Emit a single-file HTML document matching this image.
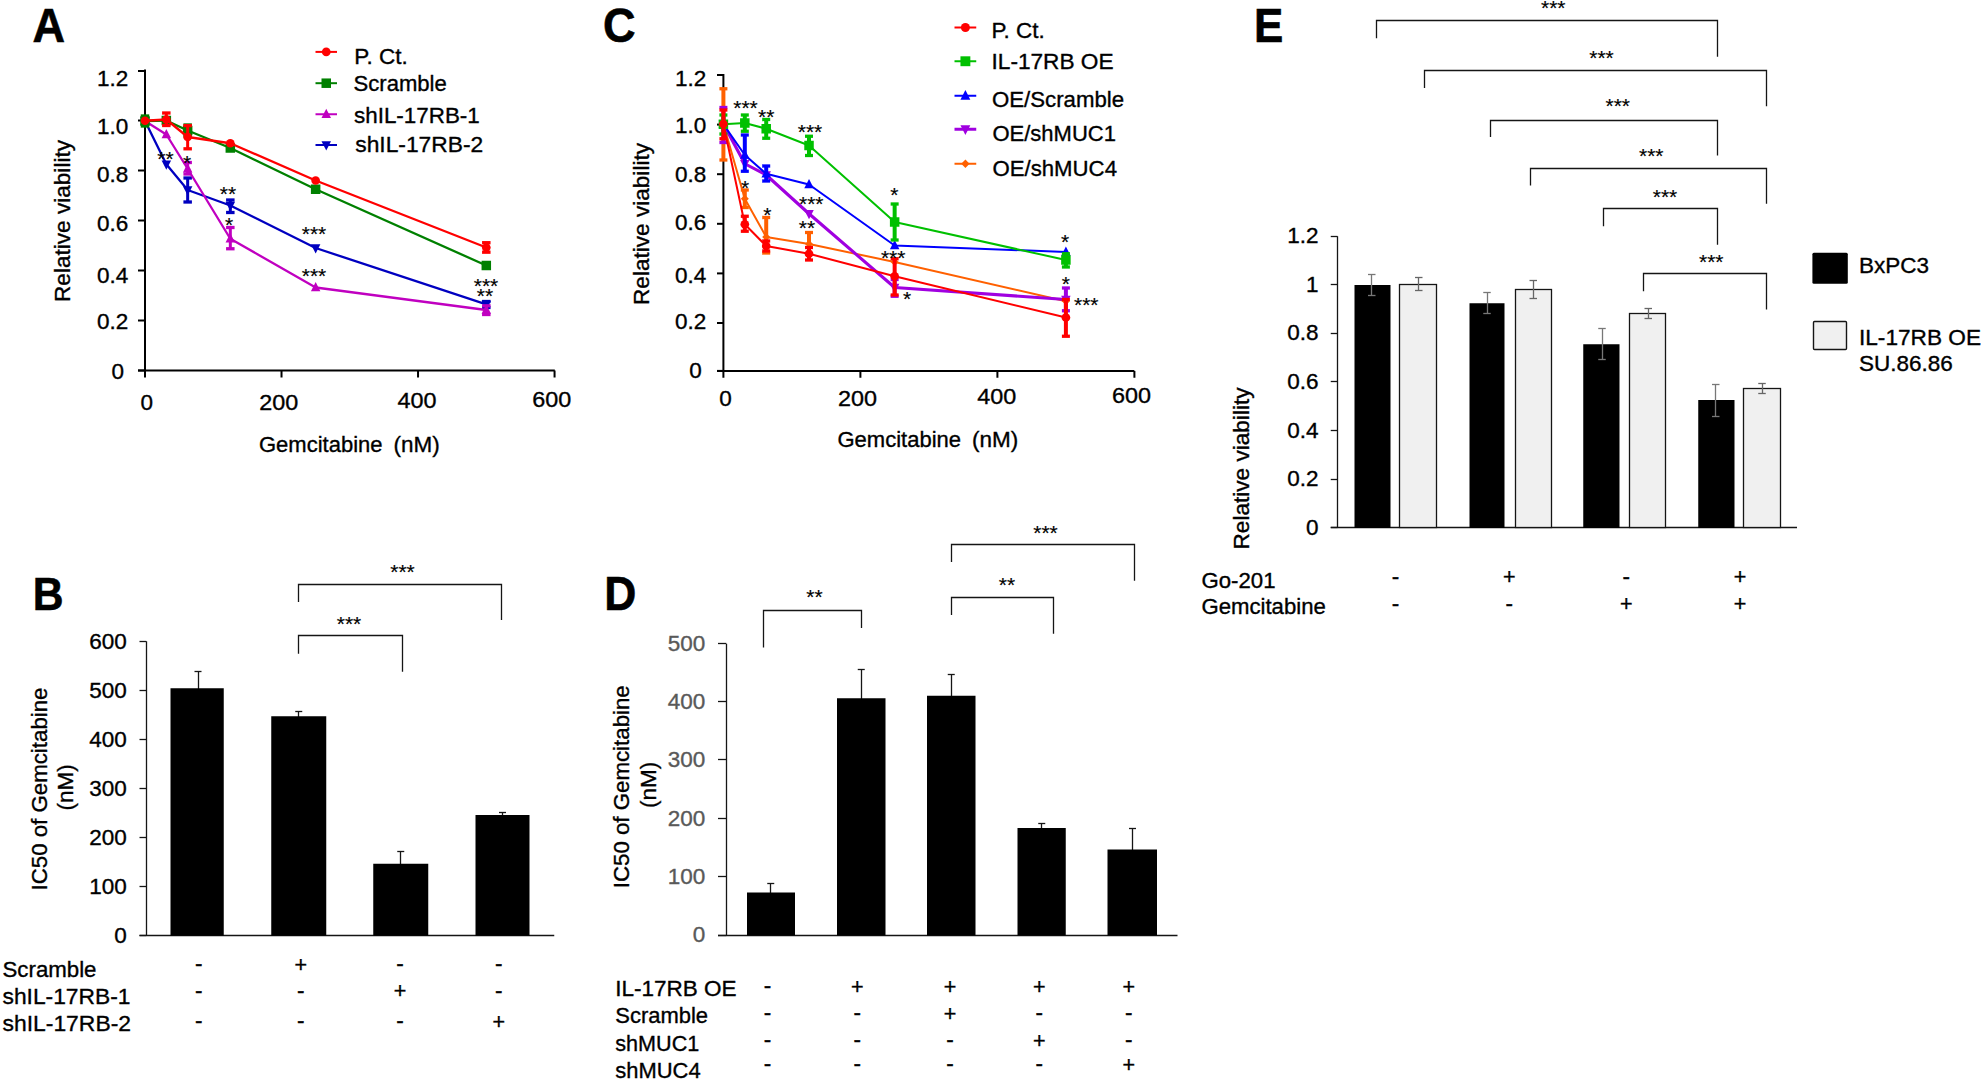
<!DOCTYPE html>
<html lang="en"><head><meta charset="utf-8"><title>Figure</title>
<style>html,body{margin:0;padding:0;background:#fff}svg{display:block}text{stroke:#000;stroke-width:.35px}text.g{stroke:#595959}</style></head><body>
<svg width="1983" height="1083" viewBox="0 0 1983 1083" font-family="'Liberation Sans', Arial, sans-serif" font-size="22.5" fill="#000">
<rect width="1983" height="1083" fill="#fff"/>
<text x="32.40" y="41.90" font-size="48" font-weight="bold" textLength="32.58" lengthAdjust="spacingAndGlyphs" style="stroke-width:.6px">A</text>
<text x="32.70" y="609.80" font-size="47" font-weight="bold" textLength="30.81" lengthAdjust="spacingAndGlyphs" style="stroke-width:.6px">B</text>
<text x="603.00" y="42.20" font-size="48" font-weight="bold" textLength="32.58" lengthAdjust="spacingAndGlyphs" style="stroke-width:.6px">C</text>
<text x="604.30" y="610.10" font-size="48" font-weight="bold" textLength="32.06" lengthAdjust="spacingAndGlyphs" style="stroke-width:.6px">D</text>
<text x="1254.10" y="41.60" font-size="48" font-weight="bold" textLength="29.29" lengthAdjust="spacingAndGlyphs" style="stroke-width:.6px">E</text>
<g id="panelA">
<line x1="145.00" y1="69.50" x2="145.00" y2="371.50" stroke="#000" stroke-width="2"/>
<line x1="138.00" y1="370.50" x2="554.80" y2="370.50" stroke="#000" stroke-width="2"/>
<line x1="138.00" y1="71.00" x2="145.00" y2="71.00" stroke="#000" stroke-width="2"/>
<line x1="138.00" y1="120.50" x2="145.00" y2="120.50" stroke="#000" stroke-width="2"/>
<line x1="138.00" y1="170.50" x2="145.00" y2="170.50" stroke="#000" stroke-width="2"/>
<line x1="138.00" y1="220.50" x2="145.00" y2="220.50" stroke="#000" stroke-width="2"/>
<line x1="138.00" y1="270.50" x2="145.00" y2="270.50" stroke="#000" stroke-width="2"/>
<line x1="138.00" y1="320.50" x2="145.00" y2="320.50" stroke="#000" stroke-width="2"/>
<line x1="138.00" y1="370.50" x2="145.00" y2="370.50" stroke="#000" stroke-width="2"/>
<line x1="145.00" y1="370.50" x2="145.00" y2="377.50" stroke="#000" stroke-width="2"/>
<line x1="281.52" y1="370.50" x2="281.52" y2="377.50" stroke="#000" stroke-width="2"/>
<line x1="418.04" y1="370.50" x2="418.04" y2="377.50" stroke="#000" stroke-width="2"/>
<line x1="554.56" y1="370.50" x2="554.56" y2="377.50" stroke="#000" stroke-width="2"/>
<text x="128.30" y="86.40" text-anchor="end">1.2</text>
<text x="128.30" y="134.20" text-anchor="end">1.0</text>
<text x="128.30" y="182.00" text-anchor="end">0.8</text>
<text x="128.30" y="231.00" text-anchor="end">0.6</text>
<text x="128.30" y="282.80" text-anchor="end">0.4</text>
<text x="128.30" y="329.30" text-anchor="end">0.2</text>
<text x="124.00" y="379.20" text-anchor="end">0</text>
<text x="146.70" y="409.90" text-anchor="middle">0</text>
<text x="278.75" y="409.90" text-anchor="middle" textLength="39" lengthAdjust="spacingAndGlyphs">200</text>
<text x="416.90" y="408.10" text-anchor="middle" textLength="39" lengthAdjust="spacingAndGlyphs">400</text>
<text x="551.70" y="407.00" text-anchor="middle" textLength="39" lengthAdjust="spacingAndGlyphs">600</text>
<text x="259.00" y="451.75" textLength="123.5" lengthAdjust="spacingAndGlyphs">Gemcitabine</text>
<text x="393.50" y="451.75">(nM)</text>
<text x="70.00" y="302.00" textLength="162" lengthAdjust="spacingAndGlyphs" transform="rotate(-90 70.00 302.00)">Relative viability</text>
<polyline points="145.00,121.00 166.33,164.25 187.66,190.00 230.32,205.50 315.65,248.00 486.30,304.40" fill="none" stroke="#0000c0" stroke-width="2.3" stroke-linejoin="round"/>
<line x1="187.66" y1="178.00" x2="187.66" y2="202.00" stroke="#0000c0" stroke-width="3"/>
<line x1="183.41" y1="178.00" x2="191.91" y2="178.00" stroke="#0000c0" stroke-width="3.3"/>
<line x1="183.41" y1="202.00" x2="191.91" y2="202.00" stroke="#0000c0" stroke-width="3.3"/>
<line x1="230.32" y1="200.00" x2="230.32" y2="212.50" stroke="#0000c0" stroke-width="3"/>
<line x1="226.07" y1="200.00" x2="234.57" y2="200.00" stroke="#0000c0" stroke-width="3.3"/>
<line x1="226.07" y1="212.50" x2="234.57" y2="212.50" stroke="#0000c0" stroke-width="3.3"/>
<line x1="486.30" y1="301.50" x2="486.30" y2="307.50" stroke="#0000c0" stroke-width="3"/>
<line x1="482.05" y1="301.50" x2="490.55" y2="301.50" stroke="#0000c0" stroke-width="3.3"/>
<line x1="482.05" y1="307.50" x2="490.55" y2="307.50" stroke="#0000c0" stroke-width="3.3"/>
<polygon points="145.00,126.50 149.75,117.25 140.25,117.25" fill="#0000c0"/>
<polygon points="166.33,169.75 171.08,160.50 161.58,160.50" fill="#0000c0"/>
<polygon points="187.66,195.50 192.41,186.25 182.91,186.25" fill="#0000c0"/>
<polygon points="230.32,211.00 235.07,201.75 225.57,201.75" fill="#0000c0"/>
<polygon points="315.65,253.50 320.40,244.25 310.90,244.25" fill="#0000c0"/>
<polygon points="486.30,309.90 491.05,300.65 481.55,300.65" fill="#0000c0"/>
<polyline points="145.00,121.00 166.33,134.50 187.66,168.75 230.32,238.75 315.65,287.50 486.30,310.00" fill="none" stroke="#c000c0" stroke-width="2.3" stroke-linejoin="round"/>
<line x1="187.66" y1="162.50" x2="187.66" y2="174.00" stroke="#c000c0" stroke-width="3"/>
<line x1="183.41" y1="162.50" x2="191.91" y2="162.50" stroke="#c000c0" stroke-width="3.3"/>
<line x1="183.41" y1="174.00" x2="191.91" y2="174.00" stroke="#c000c0" stroke-width="3.3"/>
<line x1="230.32" y1="227.50" x2="230.32" y2="248.75" stroke="#c000c0" stroke-width="3"/>
<line x1="226.07" y1="227.50" x2="234.57" y2="227.50" stroke="#c000c0" stroke-width="3.3"/>
<line x1="226.07" y1="248.75" x2="234.57" y2="248.75" stroke="#c000c0" stroke-width="3.3"/>
<line x1="486.30" y1="305.80" x2="486.30" y2="314.50" stroke="#c000c0" stroke-width="3"/>
<line x1="482.05" y1="305.80" x2="490.55" y2="305.80" stroke="#c000c0" stroke-width="3.3"/>
<line x1="482.05" y1="314.50" x2="490.55" y2="314.50" stroke="#c000c0" stroke-width="3.3"/>
<polygon points="145.00,115.50 149.75,124.75 140.25,124.75" fill="#c000c0"/>
<polygon points="166.33,129.00 171.08,138.25 161.58,138.25" fill="#c000c0"/>
<polygon points="187.66,163.25 192.41,172.50 182.91,172.50" fill="#c000c0"/>
<polygon points="230.32,233.25 235.07,242.50 225.57,242.50" fill="#c000c0"/>
<polygon points="315.65,282.00 320.40,291.25 310.90,291.25" fill="#c000c0"/>
<polygon points="486.30,304.50 491.05,313.75 481.55,313.75" fill="#c000c0"/>
<polyline points="145.00,121.00 166.33,120.50 187.66,130.50 230.32,148.00 315.65,189.25 486.30,265.50" fill="none" stroke="#008000" stroke-width="2.3" stroke-linejoin="round"/>
<line x1="145.00" y1="116.00" x2="145.00" y2="126.00" stroke="#008000" stroke-width="3"/>
<line x1="140.75" y1="116.00" x2="149.25" y2="116.00" stroke="#008000" stroke-width="3.3"/>
<line x1="140.75" y1="126.00" x2="149.25" y2="126.00" stroke="#008000" stroke-width="3.3"/>
<line x1="187.66" y1="125.00" x2="187.66" y2="136.00" stroke="#008000" stroke-width="3"/>
<line x1="183.41" y1="125.00" x2="191.91" y2="125.00" stroke="#008000" stroke-width="3.3"/>
<line x1="183.41" y1="136.00" x2="191.91" y2="136.00" stroke="#008000" stroke-width="3.3"/>
<rect x="140.25" y="116.25" width="9.50" height="9.50" fill="#008000"/>
<rect x="161.58" y="115.75" width="9.50" height="9.50" fill="#008000"/>
<rect x="182.91" y="125.75" width="9.50" height="9.50" fill="#008000"/>
<rect x="225.57" y="143.25" width="9.50" height="9.50" fill="#008000"/>
<rect x="310.90" y="184.50" width="9.50" height="9.50" fill="#008000"/>
<rect x="481.55" y="260.75" width="9.50" height="9.50" fill="#008000"/>
<polyline points="145.00,120.75 166.33,119.50 187.66,137.00 230.32,143.25 315.65,180.50 486.30,247.50" fill="none" stroke="#ff0000" stroke-width="2.3" stroke-linejoin="round"/>
<line x1="166.33" y1="113.00" x2="166.33" y2="125.50" stroke="#ff0000" stroke-width="3"/>
<line x1="162.08" y1="113.00" x2="170.58" y2="113.00" stroke="#ff0000" stroke-width="3.3"/>
<line x1="162.08" y1="125.50" x2="170.58" y2="125.50" stroke="#ff0000" stroke-width="3.3"/>
<line x1="187.66" y1="125.60" x2="187.66" y2="148.80" stroke="#ff0000" stroke-width="3"/>
<line x1="183.41" y1="125.60" x2="191.91" y2="125.60" stroke="#ff0000" stroke-width="3.3"/>
<line x1="183.41" y1="148.80" x2="191.91" y2="148.80" stroke="#ff0000" stroke-width="3.3"/>
<line x1="486.30" y1="242.70" x2="486.30" y2="252.20" stroke="#ff0000" stroke-width="3"/>
<line x1="482.05" y1="242.70" x2="490.55" y2="242.70" stroke="#ff0000" stroke-width="3.3"/>
<line x1="482.05" y1="252.20" x2="490.55" y2="252.20" stroke="#ff0000" stroke-width="3.3"/>
<circle cx="145.00" cy="120.75" r="4.35" fill="#ff0000"/>
<circle cx="166.33" cy="119.50" r="4.35" fill="#ff0000"/>
<circle cx="187.66" cy="137.00" r="4.35" fill="#ff0000"/>
<circle cx="230.32" cy="143.25" r="4.35" fill="#ff0000"/>
<circle cx="315.65" cy="180.50" r="4.35" fill="#ff0000"/>
<circle cx="486.30" cy="247.50" r="4.35" fill="#ff0000"/>
<text x="165.50" y="165.77" text-anchor="middle" font-size="21" style="stroke-width:.15px">**</text>
<text x="187.00" y="169.77" text-anchor="middle" font-size="21" style="stroke-width:.15px">*</text>
<text x="228.00" y="200.77" text-anchor="middle" font-size="21" style="stroke-width:.15px">**</text>
<text x="229.00" y="232.27" text-anchor="middle" font-size="21" style="stroke-width:.15px">*</text>
<text x="314.00" y="240.77" text-anchor="middle" font-size="21" style="stroke-width:.15px">***</text>
<text x="314.00" y="283.27" text-anchor="middle" font-size="21" style="stroke-width:.15px">***</text>
<text x="486.00" y="293.27" text-anchor="middle" font-size="21" style="stroke-width:.15px">***</text>
<text x="485.00" y="302.97" text-anchor="middle" font-size="21" style="stroke-width:.15px">**</text>
<line x1="315.50" y1="51.90" x2="337.00" y2="51.90" stroke="#ff0000" stroke-width="2"/>
<circle cx="326.25" cy="51.90" r="4.35" fill="#ff0000"/>
<text x="354.30" y="63.70">P. Ct.</text>
<line x1="315.50" y1="83.20" x2="337.00" y2="83.20" stroke="#008000" stroke-width="2"/>
<rect x="321.50" y="78.45" width="9.50" height="9.50" fill="#008000"/>
<text x="353.50" y="90.90" textLength="93.3" lengthAdjust="spacingAndGlyphs">Scramble</text>
<line x1="315.50" y1="114.25" x2="337.00" y2="114.25" stroke="#c000c0" stroke-width="2"/>
<polygon points="326.25,108.75 331.00,118.00 321.50,118.00" fill="#c000c0"/>
<text x="354.00" y="123.00" textLength="125.8" lengthAdjust="spacingAndGlyphs">shIL-17RB-1</text>
<line x1="315.50" y1="145.00" x2="337.00" y2="145.00" stroke="#0000c0" stroke-width="2"/>
<polygon points="326.25,150.50 331.00,141.25 321.50,141.25" fill="#0000c0"/>
<text x="355.30" y="152.00" textLength="127.9" lengthAdjust="spacingAndGlyphs">shIL-17RB-2</text>
</g>
<g id="panelC">
<line x1="723.40" y1="74.00" x2="723.40" y2="371.90" stroke="#000" stroke-width="2"/>
<line x1="717.00" y1="370.90" x2="1134.30" y2="370.90" stroke="#000" stroke-width="2"/>
<line x1="717.00" y1="75.00" x2="723.40" y2="75.00" stroke="#000" stroke-width="2"/>
<line x1="717.00" y1="124.60" x2="723.40" y2="124.60" stroke="#000" stroke-width="2"/>
<line x1="717.00" y1="174.20" x2="723.40" y2="174.20" stroke="#000" stroke-width="2"/>
<line x1="717.00" y1="223.80" x2="723.40" y2="223.80" stroke="#000" stroke-width="2"/>
<line x1="717.00" y1="273.40" x2="723.40" y2="273.40" stroke="#000" stroke-width="2"/>
<line x1="717.00" y1="323.00" x2="723.40" y2="323.00" stroke="#000" stroke-width="2"/>
<line x1="717.00" y1="370.90" x2="723.40" y2="370.90" stroke="#000" stroke-width="2"/>
<line x1="723.40" y1="370.90" x2="723.40" y2="377.75" stroke="#000" stroke-width="2"/>
<line x1="860.40" y1="370.90" x2="860.40" y2="377.75" stroke="#000" stroke-width="2"/>
<line x1="997.40" y1="370.90" x2="997.40" y2="377.75" stroke="#000" stroke-width="2"/>
<line x1="1134.40" y1="370.90" x2="1134.40" y2="377.75" stroke="#000" stroke-width="2"/>
<text x="706.30" y="85.50" text-anchor="end">1.2</text>
<text x="706.30" y="132.90" text-anchor="end">1.0</text>
<text x="706.30" y="182.00" text-anchor="end">0.8</text>
<text x="706.30" y="230.30" text-anchor="end">0.6</text>
<text x="706.30" y="282.60" text-anchor="end">0.4</text>
<text x="706.30" y="328.70" text-anchor="end">0.2</text>
<text x="701.70" y="378.20" text-anchor="end">0</text>
<text x="725.50" y="406.20" text-anchor="middle">0</text>
<text x="857.60" y="406.20" text-anchor="middle" textLength="39" lengthAdjust="spacingAndGlyphs">200</text>
<text x="996.70" y="404.00" text-anchor="middle" textLength="39" lengthAdjust="spacingAndGlyphs">400</text>
<text x="1131.60" y="402.90" text-anchor="middle" textLength="39" lengthAdjust="spacingAndGlyphs">600</text>
<text x="837.50" y="447.30" textLength="123.5" lengthAdjust="spacingAndGlyphs">Gemcitabine</text>
<text x="972.00" y="447.30">(nM)</text>
<text x="649.00" y="305.00" textLength="162" lengthAdjust="spacingAndGlyphs" transform="rotate(-90 649.00 305.00)">Relative viability</text>
<polyline points="723.40,124.00 744.81,198.75 766.21,237.00 809.02,244.00 894.65,262.00 1065.90,301.25" fill="none" stroke="#ff6000" stroke-width="2" stroke-linejoin="round"/>
<line x1="723.40" y1="88.75" x2="723.40" y2="160.00" stroke="#ff6000" stroke-width="4"/>
<line x1="719.40" y1="88.75" x2="727.40" y2="88.75" stroke="#ff6000" stroke-width="3.3"/>
<line x1="719.40" y1="160.00" x2="727.40" y2="160.00" stroke="#ff6000" stroke-width="3.3"/>
<line x1="744.81" y1="190.00" x2="744.81" y2="207.50" stroke="#ff6000" stroke-width="4"/>
<line x1="740.81" y1="190.00" x2="748.81" y2="190.00" stroke="#ff6000" stroke-width="3.3"/>
<line x1="740.81" y1="207.50" x2="748.81" y2="207.50" stroke="#ff6000" stroke-width="3.3"/>
<line x1="766.21" y1="217.50" x2="766.21" y2="253.00" stroke="#ff6000" stroke-width="4"/>
<line x1="762.21" y1="217.50" x2="770.21" y2="217.50" stroke="#ff6000" stroke-width="3.3"/>
<line x1="762.21" y1="253.00" x2="770.21" y2="253.00" stroke="#ff6000" stroke-width="3.3"/>
<line x1="809.02" y1="232.50" x2="809.02" y2="253.75" stroke="#ff6000" stroke-width="4"/>
<line x1="805.02" y1="232.50" x2="813.02" y2="232.50" stroke="#ff6000" stroke-width="3.3"/>
<line x1="805.02" y1="253.75" x2="813.02" y2="253.75" stroke="#ff6000" stroke-width="3.3"/>
<polygon points="723.40,120.00 727.40,124.00 723.40,128.00 719.40,124.00" fill="#ff6000"/>
<polygon points="744.81,194.75 748.81,198.75 744.81,202.75 740.81,198.75" fill="#ff6000"/>
<polygon points="766.21,233.00 770.21,237.00 766.21,241.00 762.21,237.00" fill="#ff6000"/>
<polygon points="809.02,240.00 813.02,244.00 809.02,248.00 805.02,244.00" fill="#ff6000"/>
<polygon points="894.65,258.00 898.65,262.00 894.65,266.00 890.65,262.00" fill="#ff6000"/>
<polygon points="1065.90,297.25 1069.90,301.25 1065.90,305.25 1061.90,301.25" fill="#ff6000"/>
<polyline points="723.40,124.00 744.81,163.75 766.21,175.00 809.02,213.75 894.65,287.50 1065.90,299.50" fill="none" stroke="#a000e0" stroke-width="3.1" stroke-linejoin="round"/>
<line x1="723.40" y1="107.50" x2="723.40" y2="142.50" stroke="#a000e0" stroke-width="4"/>
<line x1="719.40" y1="107.50" x2="727.40" y2="107.50" stroke="#a000e0" stroke-width="3.3"/>
<line x1="719.40" y1="142.50" x2="727.40" y2="142.50" stroke="#a000e0" stroke-width="3.3"/>
<line x1="894.65" y1="279.50" x2="894.65" y2="296.25" stroke="#a000e0" stroke-width="4"/>
<line x1="890.65" y1="279.50" x2="898.65" y2="279.50" stroke="#a000e0" stroke-width="3.3"/>
<line x1="890.65" y1="296.25" x2="898.65" y2="296.25" stroke="#a000e0" stroke-width="3.3"/>
<line x1="1065.90" y1="288.00" x2="1065.90" y2="310.75" stroke="#a000e0" stroke-width="4"/>
<line x1="1061.90" y1="288.00" x2="1069.90" y2="288.00" stroke="#a000e0" stroke-width="3.3"/>
<line x1="1061.90" y1="310.75" x2="1069.90" y2="310.75" stroke="#a000e0" stroke-width="3.3"/>
<polygon points="723.40,129.50 728.15,120.25 718.65,120.25" fill="#a000e0"/>
<polygon points="744.81,169.25 749.56,160.00 740.06,160.00" fill="#a000e0"/>
<polygon points="766.21,180.50 770.96,171.25 761.46,171.25" fill="#a000e0"/>
<polygon points="809.02,219.25 813.77,210.00 804.27,210.00" fill="#a000e0"/>
<polygon points="894.65,293.00 899.40,283.75 889.90,283.75" fill="#a000e0"/>
<polygon points="1065.90,305.00 1070.65,295.75 1061.15,295.75" fill="#a000e0"/>
<polyline points="723.40,124.25 744.81,155.00 766.21,173.75 809.02,184.50 894.65,245.50 1065.90,252.00" fill="none" stroke="#0000ff" stroke-width="2" stroke-linejoin="round"/>
<line x1="744.81" y1="135.00" x2="744.81" y2="171.25" stroke="#0000ff" stroke-width="4"/>
<line x1="740.81" y1="135.00" x2="748.81" y2="135.00" stroke="#0000ff" stroke-width="3.3"/>
<line x1="740.81" y1="171.25" x2="748.81" y2="171.25" stroke="#0000ff" stroke-width="3.3"/>
<line x1="766.21" y1="166.00" x2="766.21" y2="181.00" stroke="#0000ff" stroke-width="4"/>
<line x1="762.21" y1="166.00" x2="770.21" y2="166.00" stroke="#0000ff" stroke-width="3.3"/>
<line x1="762.21" y1="181.00" x2="770.21" y2="181.00" stroke="#0000ff" stroke-width="3.3"/>
<polygon points="723.40,118.75 728.15,128.00 718.65,128.00" fill="#0000ff"/>
<polygon points="744.81,149.50 749.56,158.75 740.06,158.75" fill="#0000ff"/>
<polygon points="766.21,168.25 770.96,177.50 761.46,177.50" fill="#0000ff"/>
<polygon points="809.02,179.00 813.77,188.25 804.27,188.25" fill="#0000ff"/>
<polygon points="894.65,240.00 899.40,249.25 889.90,249.25" fill="#0000ff"/>
<polygon points="1065.90,246.50 1070.65,255.75 1061.15,255.75" fill="#0000ff"/>
<polyline points="723.40,124.25 744.81,123.00 766.21,128.75 809.02,145.50 894.65,222.00 1065.90,260.00" fill="none" stroke="#00c000" stroke-width="2" stroke-linejoin="round"/>
<line x1="723.40" y1="115.00" x2="723.40" y2="134.00" stroke="#00c000" stroke-width="4"/>
<line x1="719.40" y1="115.00" x2="727.40" y2="115.00" stroke="#00c000" stroke-width="3.3"/>
<line x1="719.40" y1="134.00" x2="727.40" y2="134.00" stroke="#00c000" stroke-width="3.3"/>
<line x1="744.81" y1="115.00" x2="744.81" y2="131.25" stroke="#00c000" stroke-width="4"/>
<line x1="740.81" y1="115.00" x2="748.81" y2="115.00" stroke="#00c000" stroke-width="3.3"/>
<line x1="740.81" y1="131.25" x2="748.81" y2="131.25" stroke="#00c000" stroke-width="3.3"/>
<line x1="766.21" y1="119.50" x2="766.21" y2="138.25" stroke="#00c000" stroke-width="4"/>
<line x1="762.21" y1="119.50" x2="770.21" y2="119.50" stroke="#00c000" stroke-width="3.3"/>
<line x1="762.21" y1="138.25" x2="770.21" y2="138.25" stroke="#00c000" stroke-width="3.3"/>
<line x1="809.02" y1="136.25" x2="809.02" y2="155.50" stroke="#00c000" stroke-width="4"/>
<line x1="805.02" y1="136.25" x2="813.02" y2="136.25" stroke="#00c000" stroke-width="3.3"/>
<line x1="805.02" y1="155.50" x2="813.02" y2="155.50" stroke="#00c000" stroke-width="3.3"/>
<line x1="894.65" y1="204.00" x2="894.65" y2="240.00" stroke="#00c000" stroke-width="4"/>
<line x1="890.65" y1="204.00" x2="898.65" y2="204.00" stroke="#00c000" stroke-width="3.3"/>
<line x1="890.65" y1="240.00" x2="898.65" y2="240.00" stroke="#00c000" stroke-width="3.3"/>
<line x1="1065.90" y1="253.75" x2="1065.90" y2="267.00" stroke="#00c000" stroke-width="4"/>
<line x1="1061.90" y1="253.75" x2="1069.90" y2="253.75" stroke="#00c000" stroke-width="3.3"/>
<line x1="1061.90" y1="267.00" x2="1069.90" y2="267.00" stroke="#00c000" stroke-width="3.3"/>
<rect x="718.65" y="119.50" width="9.50" height="9.50" fill="#00c000"/>
<rect x="740.06" y="118.25" width="9.50" height="9.50" fill="#00c000"/>
<rect x="761.46" y="124.00" width="9.50" height="9.50" fill="#00c000"/>
<rect x="804.27" y="140.75" width="9.50" height="9.50" fill="#00c000"/>
<rect x="889.90" y="217.25" width="9.50" height="9.50" fill="#00c000"/>
<rect x="1061.15" y="255.25" width="9.50" height="9.50" fill="#00c000"/>
<polyline points="723.40,124.00 744.81,224.25 766.21,246.00 809.02,253.75 894.65,276.25 1065.90,317.50" fill="none" stroke="#ff0000" stroke-width="2" stroke-linejoin="round"/>
<line x1="723.40" y1="110.00" x2="723.40" y2="138.75" stroke="#ff0000" stroke-width="4"/>
<line x1="719.40" y1="110.00" x2="727.40" y2="110.00" stroke="#ff0000" stroke-width="3.3"/>
<line x1="719.40" y1="138.75" x2="727.40" y2="138.75" stroke="#ff0000" stroke-width="3.3"/>
<line x1="744.81" y1="216.25" x2="744.81" y2="231.25" stroke="#ff0000" stroke-width="4"/>
<line x1="740.81" y1="216.25" x2="748.81" y2="216.25" stroke="#ff0000" stroke-width="3.3"/>
<line x1="740.81" y1="231.25" x2="748.81" y2="231.25" stroke="#ff0000" stroke-width="3.3"/>
<line x1="766.21" y1="241.00" x2="766.21" y2="251.00" stroke="#ff0000" stroke-width="4"/>
<line x1="762.21" y1="241.00" x2="770.21" y2="241.00" stroke="#ff0000" stroke-width="3.3"/>
<line x1="762.21" y1="251.00" x2="770.21" y2="251.00" stroke="#ff0000" stroke-width="3.3"/>
<line x1="809.02" y1="247.50" x2="809.02" y2="260.00" stroke="#ff0000" stroke-width="4"/>
<line x1="805.02" y1="247.50" x2="813.02" y2="247.50" stroke="#ff0000" stroke-width="3.3"/>
<line x1="805.02" y1="260.00" x2="813.02" y2="260.00" stroke="#ff0000" stroke-width="3.3"/>
<line x1="894.65" y1="258.75" x2="894.65" y2="295.00" stroke="#ff0000" stroke-width="4"/>
<line x1="890.65" y1="258.75" x2="898.65" y2="258.75" stroke="#ff0000" stroke-width="3.3"/>
<line x1="890.65" y1="295.00" x2="898.65" y2="295.00" stroke="#ff0000" stroke-width="3.3"/>
<line x1="1065.90" y1="299.50" x2="1065.90" y2="336.25" stroke="#ff0000" stroke-width="4"/>
<line x1="1061.90" y1="299.50" x2="1069.90" y2="299.50" stroke="#ff0000" stroke-width="3.3"/>
<line x1="1061.90" y1="336.25" x2="1069.90" y2="336.25" stroke="#ff0000" stroke-width="3.3"/>
<circle cx="723.40" cy="124.00" r="4.35" fill="#ff0000"/>
<circle cx="744.81" cy="224.25" r="4.35" fill="#ff0000"/>
<circle cx="766.21" cy="246.00" r="4.35" fill="#ff0000"/>
<circle cx="809.02" cy="253.75" r="4.35" fill="#ff0000"/>
<circle cx="894.65" cy="276.25" r="4.35" fill="#ff0000"/>
<circle cx="1065.90" cy="317.50" r="4.35" fill="#ff0000"/>
<text x="745.50" y="114.77" text-anchor="middle" font-size="21" style="stroke-width:.15px">***</text>
<text x="766.25" y="123.52" text-anchor="middle" font-size="21" style="stroke-width:.15px">**</text>
<text x="810.00" y="139.27" text-anchor="middle" font-size="21" style="stroke-width:.15px">***</text>
<text x="745.00" y="195.27" text-anchor="middle" font-size="21" style="stroke-width:.15px">*</text>
<text x="767.30" y="222.07" text-anchor="middle" font-size="21" style="stroke-width:.15px">*</text>
<text x="811.25" y="211.02" text-anchor="middle" font-size="21" style="stroke-width:.15px">***</text>
<text x="807.00" y="235.07" text-anchor="middle" font-size="21" style="stroke-width:.15px">**</text>
<text x="894.25" y="202.27" text-anchor="middle" font-size="21" style="stroke-width:.15px">*</text>
<text x="893.20" y="265.27" text-anchor="middle" font-size="21" style="stroke-width:.15px">***</text>
<text x="907.00" y="306.02" text-anchor="middle" font-size="21" style="stroke-width:.15px">*</text>
<text x="1065.00" y="249.02" text-anchor="middle" font-size="21" style="stroke-width:.15px">*</text>
<text x="1065.75" y="290.52" text-anchor="middle" font-size="21" style="stroke-width:.15px">*</text>
<text x="1086.25" y="311.52" text-anchor="middle" font-size="21" style="stroke-width:.15px">***</text>
<line x1="954.50" y1="27.50" x2="976.25" y2="27.50" stroke="#ff0000" stroke-width="2"/>
<circle cx="965.40" cy="27.50" r="4.52" fill="#ff0000"/>
<text x="991.50" y="38.25">P. Ct.</text>
<line x1="954.50" y1="61.25" x2="976.25" y2="61.25" stroke="#00c000" stroke-width="2"/>
<rect x="960.46" y="56.31" width="9.88" height="9.88" fill="#00c000"/>
<text x="991.50" y="69.25" textLength="122.1" lengthAdjust="spacingAndGlyphs">IL-17RB OE</text>
<line x1="954.50" y1="95.75" x2="976.25" y2="95.75" stroke="#0000ff" stroke-width="2"/>
<polygon points="965.40,90.03 970.34,99.65 960.46,99.65" fill="#0000ff"/>
<text x="992.00" y="107.00" textLength="132.1" lengthAdjust="spacingAndGlyphs">OE/Scramble</text>
<line x1="954.50" y1="129.25" x2="976.25" y2="129.25" stroke="#a000e0" stroke-width="3"/>
<polygon points="965.40,134.97 970.34,125.35 960.46,125.35" fill="#a000e0"/>
<text x="992.40" y="141.25" textLength="123.6" lengthAdjust="spacingAndGlyphs">OE/shMUC1</text>
<line x1="954.50" y1="163.75" x2="976.25" y2="163.75" stroke="#ff6000" stroke-width="2"/>
<polygon points="965.40,159.59 969.56,163.75 965.40,167.91 961.24,163.75" fill="#ff6000"/>
<text x="992.40" y="175.75" textLength="124.6" lengthAdjust="spacingAndGlyphs">OE/shMUC4</text>
</g>
<g id="panelB">
<line x1="146.50" y1="641.25" x2="146.50" y2="935.20" stroke="#151515" stroke-width="1.3"/>
<line x1="139.50" y1="935.50" x2="554.25" y2="935.50" stroke="#151515" stroke-width="1.3"/>
<line x1="139.50" y1="641.50" x2="146.25" y2="641.50" stroke="#151515" stroke-width="1.3"/>
<text x="126.75" y="649.00" text-anchor="end">600</text>
<line x1="139.50" y1="690.50" x2="146.25" y2="690.50" stroke="#151515" stroke-width="1.3"/>
<text x="126.75" y="697.95" text-anchor="end">500</text>
<line x1="139.50" y1="739.50" x2="146.25" y2="739.50" stroke="#151515" stroke-width="1.3"/>
<text x="126.75" y="746.90" text-anchor="end">400</text>
<line x1="139.50" y1="788.50" x2="146.25" y2="788.50" stroke="#151515" stroke-width="1.3"/>
<text x="126.75" y="795.85" text-anchor="end">300</text>
<line x1="139.50" y1="837.50" x2="146.25" y2="837.50" stroke="#151515" stroke-width="1.3"/>
<text x="126.75" y="844.80" text-anchor="end">200</text>
<line x1="139.50" y1="886.50" x2="146.25" y2="886.50" stroke="#151515" stroke-width="1.3"/>
<text x="126.75" y="893.75" text-anchor="end">100</text>
<line x1="139.50" y1="935.50" x2="146.25" y2="935.50" stroke="#151515" stroke-width="1.3"/>
<text x="126.75" y="942.70" text-anchor="end">0</text>
<line x1="198.50" y1="671.25" x2="198.50" y2="689.25" stroke="#151515" stroke-width="1.3"/>
<line x1="194.50" y1="671.50" x2="201.50" y2="671.50" stroke="#151515" stroke-width="1.3"/>
<rect x="170.50" y="688.25" width="53.25" height="247.45" fill="#000"/>
<line x1="298.50" y1="711.25" x2="298.50" y2="717.25" stroke="#151515" stroke-width="1.3"/>
<line x1="295.25" y1="711.50" x2="302.25" y2="711.50" stroke="#151515" stroke-width="1.3"/>
<rect x="271.25" y="716.25" width="55.00" height="219.45" fill="#000"/>
<line x1="400.50" y1="851.25" x2="400.50" y2="864.75" stroke="#151515" stroke-width="1.3"/>
<line x1="397.25" y1="851.50" x2="404.25" y2="851.50" stroke="#151515" stroke-width="1.3"/>
<rect x="373.25" y="863.75" width="55.00" height="71.95" fill="#000"/>
<line x1="502.50" y1="812.50" x2="502.50" y2="816.00" stroke="#151515" stroke-width="1.3"/>
<line x1="499.00" y1="812.50" x2="506.00" y2="812.50" stroke="#151515" stroke-width="1.3"/>
<rect x="475.50" y="815.00" width="54.00" height="120.70" fill="#000"/>
<polyline points="298.50,653.75 298.50,635.50 402.50,635.50 402.50,671.75" fill="none" stroke="#151515" stroke-width="1.3"/>
<text x="349.00" y="631.02" text-anchor="middle" font-size="21" style="stroke-width:.15px">***</text>
<polyline points="298.50,602.00 298.50,584.50 501.50,584.50 501.50,620.00" fill="none" stroke="#151515" stroke-width="1.3"/>
<text x="402.50" y="579.27" text-anchor="middle" font-size="21" style="stroke-width:.15px">***</text>
<text x="46.75" y="890.50" textLength="203" lengthAdjust="spacingAndGlyphs" transform="rotate(-90 46.75 890.50)">IC50 of Gemcitabine</text>
<text x="73.20" y="810.50" transform="rotate(-90 73.20 810.50)">(nM)</text>
<text x="2.50" y="977.00" textLength="94.0" lengthAdjust="spacingAndGlyphs">Scramble</text>
<text x="2.50" y="1003.75" textLength="128.0" lengthAdjust="spacingAndGlyphs">shIL-17RB-1</text>
<text x="2.50" y="1031.25" textLength="128.5" lengthAdjust="spacingAndGlyphs">shIL-17RB-2</text>
<text x="198.75" y="971.10" text-anchor="middle">-</text>
<text x="300.75" y="971.90" text-anchor="middle" font-size="21.5">+</text>
<text x="400.00" y="971.10" text-anchor="middle">-</text>
<text x="498.75" y="971.10" text-anchor="middle">-</text>
<text x="198.75" y="997.60" text-anchor="middle">-</text>
<text x="300.75" y="997.60" text-anchor="middle">-</text>
<text x="400.00" y="998.40" text-anchor="middle" font-size="21.5">+</text>
<text x="498.75" y="997.60" text-anchor="middle">-</text>
<text x="198.75" y="1028.10" text-anchor="middle">-</text>
<text x="300.75" y="1028.10" text-anchor="middle">-</text>
<text x="400.00" y="1028.10" text-anchor="middle">-</text>
<text x="498.75" y="1028.90" text-anchor="middle" font-size="21.5">+</text>
</g>
<g id="panelD">
<line x1="726.50" y1="643.75" x2="726.50" y2="935.00" stroke="#151515" stroke-width="1.3"/>
<line x1="718.00" y1="935.50" x2="1177.50" y2="935.50" stroke="#151515" stroke-width="1.3"/>
<line x1="718.00" y1="643.50" x2="726.30" y2="643.50" stroke="#151515" stroke-width="1.3"/>
<text x="705.25" y="651.15" text-anchor="end" fill="#595959" class="g">500</text>
<line x1="718.00" y1="701.50" x2="726.30" y2="701.50" stroke="#151515" stroke-width="1.3"/>
<text x="705.25" y="708.65" text-anchor="end" fill="#595959" class="g">400</text>
<line x1="718.00" y1="759.50" x2="726.30" y2="759.50" stroke="#151515" stroke-width="1.3"/>
<text x="705.25" y="766.95" text-anchor="end" fill="#595959" class="g">300</text>
<line x1="718.00" y1="818.50" x2="726.30" y2="818.50" stroke="#151515" stroke-width="1.3"/>
<text x="705.25" y="825.85" text-anchor="end" fill="#595959" class="g">200</text>
<line x1="718.00" y1="876.50" x2="726.30" y2="876.50" stroke="#151515" stroke-width="1.3"/>
<text x="705.25" y="884.05" text-anchor="end" fill="#595959" class="g">100</text>
<line x1="718.00" y1="935.50" x2="726.30" y2="935.50" stroke="#151515" stroke-width="1.3"/>
<text x="705.25" y="942.25" text-anchor="end" fill="#595959" class="g">0</text>
<line x1="770.50" y1="883.25" x2="770.50" y2="893.50" stroke="#151515" stroke-width="1.3"/>
<line x1="767.25" y1="883.50" x2="774.25" y2="883.50" stroke="#151515" stroke-width="1.3"/>
<rect x="747.00" y="892.50" width="48.00" height="43.00" fill="#000"/>
<line x1="861.50" y1="669.50" x2="861.50" y2="699.25" stroke="#151515" stroke-width="1.3"/>
<line x1="857.75" y1="669.50" x2="864.75" y2="669.50" stroke="#151515" stroke-width="1.3"/>
<rect x="837.00" y="698.25" width="48.50" height="237.25" fill="#000"/>
<line x1="951.50" y1="674.50" x2="951.50" y2="696.75" stroke="#151515" stroke-width="1.3"/>
<line x1="947.75" y1="674.50" x2="954.75" y2="674.50" stroke="#151515" stroke-width="1.3"/>
<rect x="927.00" y="695.75" width="48.50" height="239.75" fill="#000"/>
<line x1="1041.50" y1="823.00" x2="1041.50" y2="829.00" stroke="#151515" stroke-width="1.3"/>
<line x1="1038.25" y1="823.50" x2="1045.25" y2="823.50" stroke="#151515" stroke-width="1.3"/>
<rect x="1017.50" y="828.00" width="48.25" height="107.50" fill="#000"/>
<line x1="1132.50" y1="828.25" x2="1132.50" y2="850.50" stroke="#151515" stroke-width="1.3"/>
<line x1="1129.00" y1="828.50" x2="1136.00" y2="828.50" stroke="#151515" stroke-width="1.3"/>
<rect x="1107.50" y="849.50" width="49.50" height="86.00" fill="#000"/>
<polyline points="763.50,647.50 763.50,610.50 861.50,610.50 861.50,628.00" fill="none" stroke="#151515" stroke-width="1.3"/>
<text x="814.50" y="603.52" text-anchor="middle" font-size="21" style="stroke-width:.15px">**</text>
<polyline points="951.50,615.00 951.50,597.50 1053.50,597.50 1053.50,633.75" fill="none" stroke="#151515" stroke-width="1.3"/>
<text x="1007.00" y="592.27" text-anchor="middle" font-size="21" style="stroke-width:.15px">**</text>
<polyline points="951.50,562.00 951.50,544.50 1134.50,544.50 1134.50,580.75" fill="none" stroke="#151515" stroke-width="1.3"/>
<text x="1045.50" y="539.77" text-anchor="middle" font-size="21" style="stroke-width:.15px">***</text>
<text x="628.75" y="888.25" textLength="203" lengthAdjust="spacingAndGlyphs" transform="rotate(-90 628.75 888.25)">IC50 of Gemcitabine</text>
<text x="656.25" y="808.00" transform="rotate(-90 656.25 808.00)">(nM)</text>
<text x="615.25" y="995.75">IL-17RB OE</text>
<text x="615.25" y="1022.75" textLength="92.8" lengthAdjust="spacingAndGlyphs">Scramble</text>
<text x="615.25" y="1050.75" textLength="84.0" lengthAdjust="spacingAndGlyphs">shMUC1</text>
<text x="615.25" y="1077.75" textLength="85.4" lengthAdjust="spacingAndGlyphs">shMUC4</text>
<text x="767.50" y="993.10" text-anchor="middle">-</text>
<text x="857.25" y="993.90" text-anchor="middle" font-size="21.5">+</text>
<text x="950.00" y="993.90" text-anchor="middle" font-size="21.5">+</text>
<text x="1039.25" y="993.90" text-anchor="middle" font-size="21.5">+</text>
<text x="1128.75" y="993.90" text-anchor="middle" font-size="21.5">+</text>
<text x="767.50" y="1019.85" text-anchor="middle">-</text>
<text x="857.25" y="1019.85" text-anchor="middle">-</text>
<text x="950.00" y="1020.65" text-anchor="middle" font-size="21.5">+</text>
<text x="1039.25" y="1019.85" text-anchor="middle">-</text>
<text x="1128.75" y="1019.85" text-anchor="middle">-</text>
<text x="767.50" y="1047.10" text-anchor="middle">-</text>
<text x="857.25" y="1047.10" text-anchor="middle">-</text>
<text x="950.00" y="1047.10" text-anchor="middle">-</text>
<text x="1039.25" y="1047.90" text-anchor="middle" font-size="21.5">+</text>
<text x="1128.75" y="1047.10" text-anchor="middle">-</text>
<text x="767.50" y="1071.35" text-anchor="middle">-</text>
<text x="857.25" y="1071.35" text-anchor="middle">-</text>
<text x="950.00" y="1071.35" text-anchor="middle">-</text>
<text x="1039.25" y="1071.35" text-anchor="middle">-</text>
<text x="1128.75" y="1072.15" text-anchor="middle" font-size="21.5">+</text>
</g>
<g id="panelE">
<line x1="1337.50" y1="236.25" x2="1337.50" y2="527.50" stroke="#151515" stroke-width="1.3"/>
<line x1="1330.75" y1="527.50" x2="1797.00" y2="527.50" stroke="#151515" stroke-width="1.3"/>
<line x1="1330.75" y1="236.50" x2="1337.50" y2="236.50" stroke="#151515" stroke-width="1.3"/>
<text x="1318.50" y="243.30" text-anchor="end">1.2</text>
<line x1="1330.75" y1="284.50" x2="1337.50" y2="284.50" stroke="#151515" stroke-width="1.3"/>
<text x="1318.50" y="291.85" text-anchor="end">1</text>
<line x1="1330.75" y1="333.50" x2="1337.50" y2="333.50" stroke="#151515" stroke-width="1.3"/>
<text x="1318.50" y="340.40" text-anchor="end">0.8</text>
<line x1="1330.75" y1="381.50" x2="1337.50" y2="381.50" stroke="#151515" stroke-width="1.3"/>
<text x="1318.50" y="388.95" text-anchor="end">0.6</text>
<line x1="1330.75" y1="430.50" x2="1337.50" y2="430.50" stroke="#151515" stroke-width="1.3"/>
<text x="1318.50" y="437.50" text-anchor="end">0.4</text>
<line x1="1330.75" y1="479.50" x2="1337.50" y2="479.50" stroke="#151515" stroke-width="1.3"/>
<text x="1318.50" y="486.05" text-anchor="end">0.2</text>
<line x1="1330.75" y1="527.50" x2="1337.50" y2="527.50" stroke="#151515" stroke-width="1.3"/>
<text x="1318.50" y="534.60" text-anchor="end">0</text>
<rect x="1354.50" y="285.00" width="36.00" height="243.00" fill="#000"/>
<line x1="1371.50" y1="274.50" x2="1371.50" y2="295.00" stroke="#777" stroke-width="1.3"/>
<line x1="1368.00" y1="274.50" x2="1375.50" y2="274.50" stroke="#777" stroke-width="1.3"/>
<line x1="1368.00" y1="295.50" x2="1375.50" y2="295.50" stroke="#777" stroke-width="1.3"/>
<rect x="1399.50" y="284.50" width="37.00" height="243.00" fill="#f0f0f0" stroke="#151515" stroke-width="1.3"/>
<line x1="1418.50" y1="277.50" x2="1418.50" y2="290.75" stroke="#666" stroke-width="1.3"/>
<line x1="1415.00" y1="277.50" x2="1422.50" y2="277.50" stroke="#666" stroke-width="1.3"/>
<line x1="1415.00" y1="290.50" x2="1422.50" y2="290.50" stroke="#666" stroke-width="1.3"/>
<rect x="1469.50" y="303.25" width="35.00" height="224.75" fill="#000"/>
<line x1="1487.50" y1="292.50" x2="1487.50" y2="313.25" stroke="#777" stroke-width="1.3"/>
<line x1="1483.25" y1="292.50" x2="1490.75" y2="292.50" stroke="#777" stroke-width="1.3"/>
<line x1="1483.25" y1="313.50" x2="1490.75" y2="313.50" stroke="#777" stroke-width="1.3"/>
<rect x="1515.50" y="289.50" width="36.00" height="238.00" fill="#f0f0f0" stroke="#151515" stroke-width="1.3"/>
<line x1="1533.50" y1="280.00" x2="1533.50" y2="298.25" stroke="#666" stroke-width="1.3"/>
<line x1="1529.50" y1="280.50" x2="1537.00" y2="280.50" stroke="#666" stroke-width="1.3"/>
<line x1="1529.50" y1="298.50" x2="1537.00" y2="298.50" stroke="#666" stroke-width="1.3"/>
<rect x="1583.25" y="344.25" width="36.25" height="183.75" fill="#000"/>
<line x1="1602.50" y1="328.25" x2="1602.50" y2="359.50" stroke="#777" stroke-width="1.3"/>
<line x1="1598.25" y1="328.50" x2="1605.75" y2="328.50" stroke="#777" stroke-width="1.3"/>
<line x1="1598.25" y1="359.50" x2="1605.75" y2="359.50" stroke="#777" stroke-width="1.3"/>
<rect x="1629.50" y="313.50" width="36.00" height="214.00" fill="#f0f0f0" stroke="#151515" stroke-width="1.3"/>
<line x1="1648.50" y1="308.00" x2="1648.50" y2="318.75" stroke="#666" stroke-width="1.3"/>
<line x1="1644.50" y1="308.50" x2="1652.00" y2="308.50" stroke="#666" stroke-width="1.3"/>
<line x1="1644.50" y1="318.50" x2="1652.00" y2="318.50" stroke="#666" stroke-width="1.3"/>
<rect x="1698.25" y="400.00" width="36.25" height="128.00" fill="#000"/>
<line x1="1715.50" y1="384.50" x2="1715.50" y2="416.25" stroke="#777" stroke-width="1.3"/>
<line x1="1712.00" y1="384.50" x2="1719.50" y2="384.50" stroke="#777" stroke-width="1.3"/>
<line x1="1712.00" y1="416.50" x2="1719.50" y2="416.50" stroke="#777" stroke-width="1.3"/>
<rect x="1743.50" y="388.50" width="37.00" height="139.00" fill="#f0f0f0" stroke="#151515" stroke-width="1.3"/>
<line x1="1762.50" y1="383.25" x2="1762.50" y2="393.00" stroke="#666" stroke-width="1.3"/>
<line x1="1758.25" y1="383.50" x2="1765.75" y2="383.50" stroke="#666" stroke-width="1.3"/>
<line x1="1758.25" y1="393.50" x2="1765.75" y2="393.50" stroke="#666" stroke-width="1.3"/>
<polyline points="1376.50,38.25 1376.50,20.50 1717.50,20.50 1717.50,56.75" fill="none" stroke="#151515" stroke-width="1.3"/>
<text x="1553.25" y="15.27" text-anchor="middle" font-size="21" style="stroke-width:.15px">***</text>
<polyline points="1424.50,88.00 1424.50,70.50 1766.50,70.50 1766.50,106.25" fill="none" stroke="#151515" stroke-width="1.3"/>
<text x="1601.50" y="64.77" text-anchor="middle" font-size="21" style="stroke-width:.15px">***</text>
<polyline points="1490.50,137.00 1490.50,120.50 1717.50,120.50 1717.50,155.50" fill="none" stroke="#151515" stroke-width="1.3"/>
<text x="1617.75" y="113.27" text-anchor="middle" font-size="21" style="stroke-width:.15px">***</text>
<polyline points="1530.50,185.50 1530.50,168.50 1766.50,168.50 1766.50,203.75" fill="none" stroke="#151515" stroke-width="1.3"/>
<text x="1651.25" y="162.52" text-anchor="middle" font-size="21" style="stroke-width:.15px">***</text>
<polyline points="1603.50,226.25 1603.50,208.50 1717.50,208.50 1717.50,244.75" fill="none" stroke="#151515" stroke-width="1.3"/>
<text x="1665.00" y="203.77" text-anchor="middle" font-size="21" style="stroke-width:.15px">***</text>
<polyline points="1643.50,291.25 1643.50,273.50 1766.50,273.50 1766.50,309.50" fill="none" stroke="#151515" stroke-width="1.3"/>
<text x="1711.25" y="269.02" text-anchor="middle" font-size="21" style="stroke-width:.15px">***</text>
<text x="1248.80" y="549.50" textLength="162" lengthAdjust="spacingAndGlyphs" transform="rotate(-90 1248.80 549.50)">Relative viability</text>
<text x="1201.50" y="587.50" textLength="74" lengthAdjust="spacingAndGlyphs">Go-201</text>
<text x="1201.50" y="614.00" textLength="124.3" lengthAdjust="spacingAndGlyphs">Gemcitabine</text>
<text x="1395.50" y="583.60" text-anchor="middle">-</text>
<text x="1509.25" y="584.40" text-anchor="middle" font-size="21.5">+</text>
<text x="1626.25" y="583.60" text-anchor="middle">-</text>
<text x="1740.00" y="584.40" text-anchor="middle" font-size="21.5">+</text>
<text x="1395.50" y="610.60" text-anchor="middle">-</text>
<text x="1509.25" y="610.60" text-anchor="middle">-</text>
<text x="1626.25" y="611.40" text-anchor="middle" font-size="21.5">+</text>
<text x="1740.00" y="611.40" text-anchor="middle" font-size="21.5">+</text>
<rect x="1812.40" y="252.80" width="35.40" height="31.00" fill="#000" rx="1.5"/>
<text x="1859.00" y="273.20">BxPC3</text>
<rect x="1813.50" y="321.50" width="33.00" height="28.00" fill="#f0f0f0" stroke="#151515" stroke-width="1.4" rx="1"/>
<text x="1859.00" y="344.50" textLength="122" lengthAdjust="spacingAndGlyphs">IL-17RB OE</text>
<text x="1859.00" y="371.25">SU.86.86</text>
</g>
</svg></body></html>
